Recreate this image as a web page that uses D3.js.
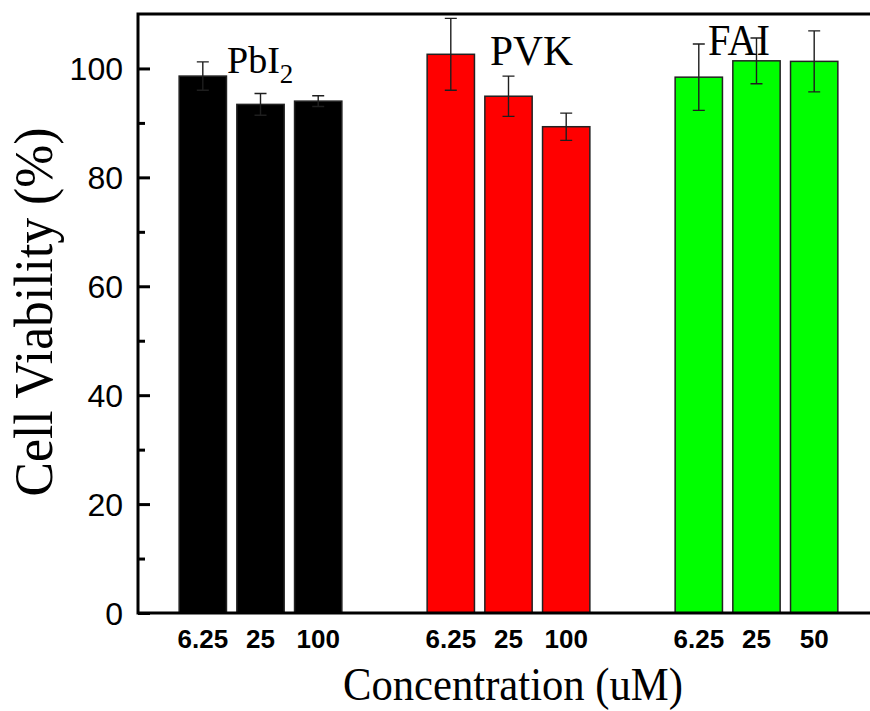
<!DOCTYPE html>
<html>
<head>
<meta charset="utf-8">
<script src="https://cdn.jsdelivr.net/npm/d3@7"></script>
<style>
  html, body { margin: 0; padding: 0; background: #ffffff; }
  svg { display: block; }
</style>
</head>
<body>
<script>
// ---------- data ----------
const groups = ["PbI2", "PVK", "FAI"];
const concentrations = [["6.25", "25", "100"], ["6.25", "25", "100"], ["6.25", "25", "50"]];
const pbi2Values = [98.6, 93.4, 94.0];
const pbi2Errors = [2.6, 2.0, 1.0];
const pvkValues = [102.6, 94.9, 89.3];
const pvkErrors = [6.6, 3.7, 2.5];
const faiValues = [98.4, 101.4, 101.3];
const faiErrors = [6.1, 4.2, 5.6];
const groupColors = ["#000000", "#ff0000", "#00ff00"];
const yMajorTicks = [0, 20, 40, 60, 80, 100];
const yMinorTicks = [10, 30, 50, 70, 90];
const yTitle = "Cell Viability (%)";
const xTitle = "Concentration (uM)";

const seriesValues = [pbi2Values, pvkValues, faiValues];
const seriesErrors = [pbi2Errors, pvkErrors, faiErrors];

// ---------- layout ----------
const W = 870, H = 711;
const plot = { left: 138, top: 14, right: 879, bottom: 613 };

const svg = d3.select("body").append("svg")
  .attr("width", W).attr("height", H);

const y = d3.scaleLinear().domain([0, 110]).range([plot.bottom, plot.top]);
const xGroup = d3.scaleBand().domain(groups)
  .range([plot.left, plot.right]).paddingInner(0.302).paddingOuter(0.145);
const xInner = d3.scaleBand().domain([0, 1, 2])
  .range([0, xGroup.bandwidth()]).paddingInner(0.18).paddingOuter(0.09);

const bars = [];
groups.forEach((g, gi) => {
  seriesValues[gi].forEach((v, i) => {
    bars.push({ group: g, gi, i, value: v, err: seriesErrors[gi][i],
      label: concentrations[gi][i], color: groupColors[gi] });
  });
});
const bx = d => xGroup(d.group) + xInner(d.i);
const bc = d => bx(d) + xInner.bandwidth() / 2;

// ---------- bars ----------
svg.append("g").selectAll("rect").data(bars).join("rect")
  .attr("x", bx)
  .attr("y", d => y(d.value))
  .attr("width", xInner.bandwidth())
  .attr("height", d => y(0) - y(d.value))
  .attr("fill", d => d.color)
  .attr("stroke", "#222")
  .attr("stroke-width", 1.5);

// ---------- error bars ----------
const eg = svg.append("g").attr("stroke", "#1e1e1e").attr("stroke-width", 1.4).attr("fill", "none");
const capHalf = 6;
eg.selectAll("path").data(bars).join("path")
  .attr("d", d => {
    const c = bc(d), t = y(d.value + d.err), b = y(d.value - d.err);
    return `M${c},${t}V${b}M${c - capHalf},${t}H${c + capHalf}M${c - capHalf},${b}H${c + capHalf}`;
  });

// ---------- frame ----------
svg.append("path")
  .attr("d", `M${plot.right + 20},${plot.top}H${plot.left}V${plot.bottom}H${plot.right + 20}`)
  .attr("fill", "none").attr("stroke", "#000").attr("stroke-width", 3);

// ---------- y axis ticks (inside) ----------
const yAxisMajor = d3.axisRight(y).tickValues(yMajorTicks).tickSize(12).tickFormat("");
const yAxisMinor = d3.axisRight(y).tickValues(yMinorTicks).tickSize(7).tickFormat("");
[yAxisMajor, yAxisMinor].forEach(ax => {
  const g = svg.append("g").attr("transform", `translate(${plot.left},0)`).call(ax);
  g.select(".domain").remove();
  g.selectAll("line").attr("stroke", "#000").attr("stroke-width", 3);
});
svg.append("g").selectAll("text").data(yMajorTicks).join("text")
  .attr("x", 123).attr("y", d => y(d)).attr("dy", "0.36em")
  .attr("text-anchor", "end")
  .attr("font-family", "Liberation Sans, Arial, sans-serif")
  .attr("font-size", 32)
  .attr("fill", "#000")
  .text(d => d);

// ---------- x tick labels ----------
svg.append("g").selectAll("text").data(bars).join("text")
  .attr("x", bc).attr("y", 648)
  .attr("text-anchor", "middle")
  .attr("font-family", "Liberation Sans, Arial, sans-serif")
  .attr("font-weight", "bold")
  .attr("font-size", 26)
  .attr("fill", "#000")
  .text(d => d.label);

// ---------- axis titles ----------
svg.append("text")
  .attr("transform", "translate(52,312) rotate(-90)")
  .attr("text-anchor", "middle")
  .attr("font-family", "Liberation Serif, Times New Roman, serif")
  .attr("font-size", 54)
  .attr("textLength", 369).attr("lengthAdjust", "spacingAndGlyphs")
  .attr("fill", "#000")
  .text(yTitle);

svg.append("text")
  .attr("x", 513).attr("y", 700)
  .attr("text-anchor", "middle")
  .attr("font-family", "Liberation Serif, Times New Roman, serif")
  .attr("font-size", 47)
  .attr("textLength", 340).attr("lengthAdjust", "spacingAndGlyphs")
  .attr("fill", "#000")
  .text(xTitle);

// ---------- group annotations ----------
const serif = "Liberation Serif, Times New Roman, serif";
const t1 = svg.append("text").attr("x", 227).attr("y", 73)
  .attr("font-family", serif).attr("font-size", 38).attr("fill", "#000");
t1.append("tspan").text("PbI");
t1.append("tspan").attr("dy", 10).attr("font-size", 27).text("2");

svg.append("text").attr("x", 490).attr("y", 65)
  .attr("font-family", serif).attr("font-size", 42).attr("fill", "#000")
  .attr("textLength", 83).attr("lengthAdjust", "spacingAndGlyphs")
  .text("PVK");

svg.append("text").attr("x", 708).attr("y", 55)
  .attr("font-family", serif).attr("font-size", 44).attr("fill", "#000")
  .attr("textLength", 62).attr("lengthAdjust", "spacingAndGlyphs")
  .text("FAI");
</script>
</body>
</html>
